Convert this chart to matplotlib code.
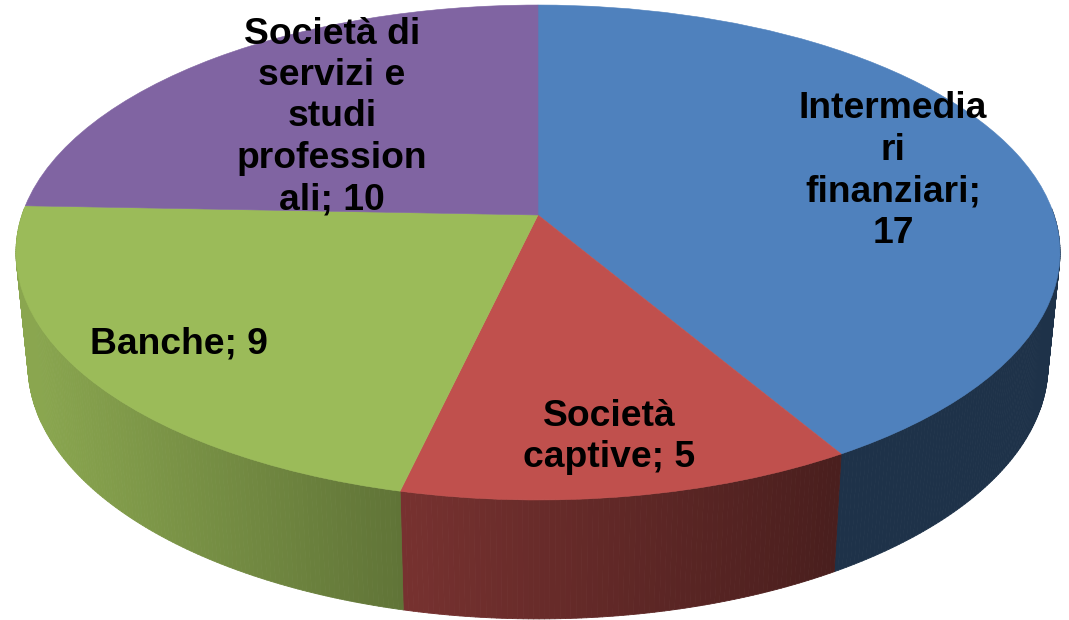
import numpy as np
import matplotlib
matplotlib.use('Agg')
import matplotlib.pyplot as plt
from matplotlib.collections import PolyCollection
from matplotlib.transforms import Transform

plt.rcParams['font.family'] = ['Liberation Sans', 'DejaVu Sans']

# Dati
categorie = ['Intermediari finanziari', 'Società captive', 'Banche',
             'Società di servizi e studi professionali']
valori = [17, 5, 9, 10]
etichette = ['Intermedia\nri\nfinanziari;\n17', 'Società\ncaptive; 5', 'Banche; 9',
             'Società di\nservizi e\nstudi\nprofession\nali; 10']

# Stile
colori = ['#4F81BD', '#C0504D', '#9BBB59', '#8064A2']
pos_etichette = [(893, 171), (609, 437), (179, 344), (332, 117)]

# Prospettiva del disco (pixel)
CX, CY = 538, 215
A, B, K = 516, 241.8, -0.1515
# Bordo inferiore della parete
SCALA_X, SCALA_Y = 0.977, 1.026
CY_SOPRA, CY_SOTTO = 252.5, 365


def proietta(x, y):
    w = 1 - K * y
    return CX + A * x / w, CY - B * y / w


class Prospettiva(Transform):
    input_dims = 2
    output_dims = 2

    def transform_non_affine(self, values):
        values = np.asarray(values)
        px, py = proietta(values[:, 0], values[:, 1])
        return np.column_stack([px, py])


def ombra(x):
    return np.interp(x, [30, 400, 835], [0.89, 0.62, 0.385])


fig = plt.figure(figsize=(10.69, 6.2), dpi=100)
ax = fig.add_axes([0, 0, 1, 1])

# Faccia superiore
wedges, _ = ax.pie(valori, colors=colori, startangle=90, counterclock=False, radius=1)
persp = Prospettiva()
for w, colore in zip(wedges, colori):
    w.set_transform(persp + ax.transData)
    w.set_zorder(3)
    w.set_edgecolor(colore)
    w.set_linewidth(0.4)

# Parete laterale (solo la parte davanti)
limiti = np.cumsum([0] + valori) / sum(valori) * 2 * np.pi
for i, colore in enumerate(colori):
    n = max(int((limiti[i + 1] - limiti[i]) / np.radians(0.5)), 2)
    t = np.linspace(limiti[i], limiti[i + 1], n)
    t = t[np.cos(t) < 0.03]
    if len(t) < 2:
        continue
    xs, ys = proietta(np.sin(t), np.cos(t))
    xb = CX + SCALA_X * (xs - CX)
    yb = CY_SOTTO + SCALA_Y * (ys - CY_SOPRA)
    quads = []
    facce = []
    base = np.array(matplotlib.colors.to_rgb(colore))
    for j in range(len(t) - 1):
        quads.append([(xs[j], ys[j]), (xs[j + 1], ys[j + 1]), (xb[j + 1], yb[j + 1]), (xb[j], yb[j])])
        facce.append(base * ombra((xs[j] + xs[j + 1]) / 2))
    ax.add_collection(PolyCollection(quads, facecolors=facce, edgecolors=facce, linewidths=0.6, zorder=1))

# Etichette
for testo, (x, y) in zip(etichette, pos_etichette):
    ax.text(x, y, testo, ha='center', va='center', fontsize=26.8, fontweight='bold',
            color='black', linespacing=1.24, zorder=5)

ax.set_aspect('auto')
ax.set_xlim(0, 1069)
ax.set_ylim(620, 0)
ax.axis('off')

fig.savefig('out.png', dpi=100, facecolor='white')
